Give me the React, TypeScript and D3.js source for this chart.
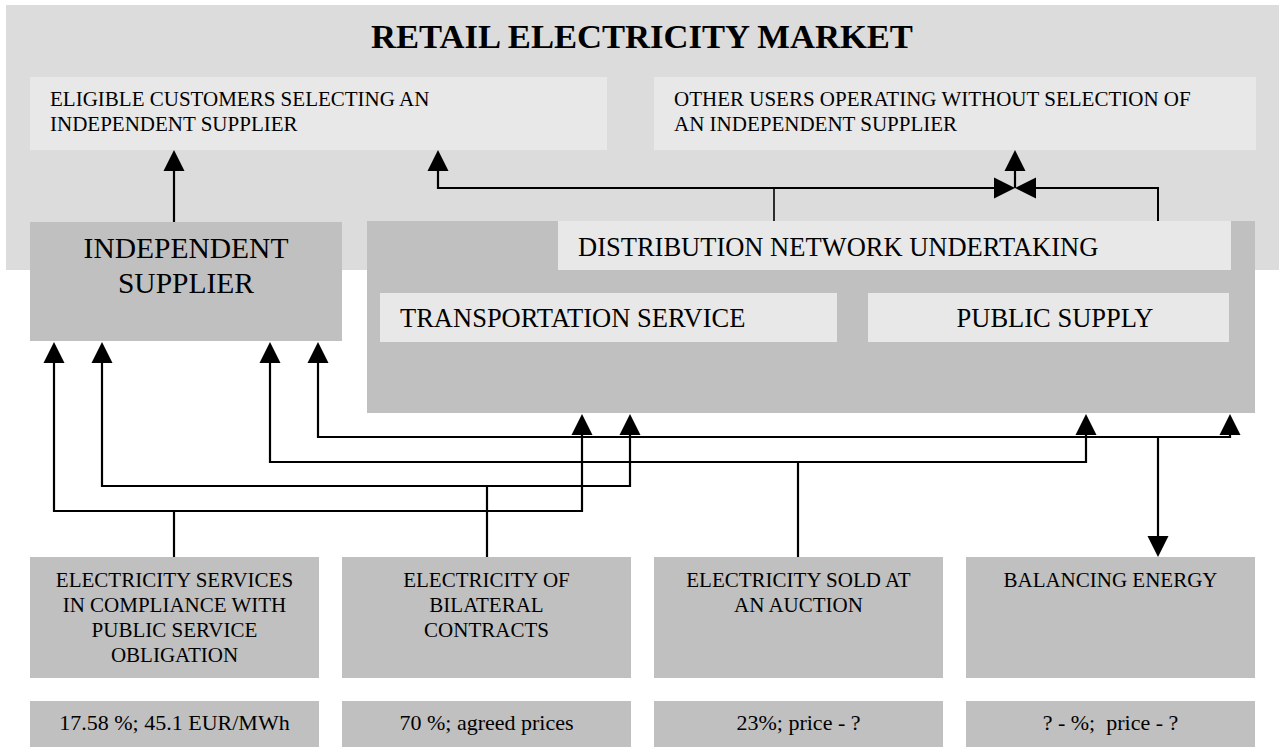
import React, { useEffect, useRef } from "react";
import * as d3 from "d3";

// ---- diagram content ----
const title = "RETAIL ELECTRICITY MARKET";
const customerGroups = [
  ["ELIGIBLE CUSTOMERS SELECTING AN", "INDEPENDENT SUPPLIER"],
  ["OTHER USERS OPERATING WITHOUT SELECTION OF", "AN INDEPENDENT SUPPLIER"],
];
const supplierLabel = ["INDEPENDENT", "SUPPLIER"];
const dnuLabel = "DISTRIBUTION NETWORK UNDERTAKING";
const dnuServices = ["TRANSPORTATION SERVICE", "PUBLIC SUPPLY"];
const sources = ["pso", "bilateral", "auction", "balancing"];
const sourceLabels = [
  ["ELECTRICITY SERVICES", "IN COMPLIANCE WITH", "PUBLIC SERVICE", "OBLIGATION"],
  ["ELECTRICITY OF", "BILATERAL", "CONTRACTS"],
  ["ELECTRICITY SOLD AT", "AN AUCTION"],
  ["BALANCING ENERGY"],
];
const sourceShares = [
  "17.58 %; 45.1 EUR/MWh",
  "70 %; agreed prices",
  "23%; price - ?",
  "? - %;  price - ?",
];

// ---- layout ----
const W = 1284;
const H = 747;
const FONT = "'Liberation Serif', 'Times New Roman', serif";
const C_OUTER = "#dcdcdc";
const C_LIGHT = "#e8e8e8";
const C_DARK = "#c0c0c0";

// wiring: which bus each source uses, where it drops into the source box,
// and where it rises to the supplier / the distribution undertaking
const busY = { balancing: 437, auction: 462, bilateral: 486, pso: 511 };
const dropX = { pso: 174, bilateral: 487, auction: 798, balancing: 1158 };
const toSupplierX = { balancing: 318, auction: 270, bilateral: 102, pso: 54 };
const toDnuX = { balancing: 1230, auction: 1086, bilateral: 630, pso: 582 };

export default function App() {
  const ref = useRef<SVGSVGElement>(null);

  useEffect(() => {
    document.body.style.margin = "0";
    const svg = d3.select(ref.current);
    svg.selectAll("*").remove();

    const rect = (x0, y0, x1, y1, fill) =>
      svg.append("rect").attr("x", x0).attr("y", y0)
        .attr("width", x1 - x0).attr("height", y1 - y0).attr("fill", fill);

    const text = (x, y, s, size, anchor = "start", weight = "normal") =>
      svg.append("text").attr("x", x).attr("y", y)
        .attr("font-family", FONT).attr("font-size", size)
        .attr("font-weight", weight).attr("text-anchor", anchor)
        .attr("fill", "#000").style("white-space", "pre").text(s);

    const line = d3.line<[number, number]>();
    const wire = (pts: [number, number][], w = 2.2) =>
      svg.append("path").attr("d", line(pts)).attr("fill", "none")
        .attr("stroke", "#000").attr("stroke-width", w)
        .attr("stroke-linejoin", "miter");

    // arrow head with its tip at (x, y)
    const head = (x, y, dir) => {
      const L = 21, hw = 10.5;
      let pts: [number, number][];
      if (dir === "up") pts = [[x, y], [x - hw, y + L], [x + hw, y + L]];
      else if (dir === "down") pts = [[x, y], [x - hw, y - L], [x + hw, y - L]];
      else if (dir === "right") pts = [[x, y], [x - L, y - hw], [x - L, y + hw]];
      else pts = [[x, y], [x + L, y - hw], [x + L, y + hw]];
      svg.append("path").attr("d", line(pts) + "Z").attr("fill", "#000");
    };

    // retail market panel
    rect(6, 5, 1279, 270, C_OUTER);
    text(642, 48, title, 34.6, "middle", "bold");
    const custX = [[30, 607], [654, 1256]];
    customerGroups.forEach((lines, i) => {
      rect(custX[i][0], 77, custX[i][1], 150, C_LIGHT);
      lines.forEach((l, j) => text(custX[i][0] + 20, 106 + j * 25, l, 21));
    });

    // independent supplier
    rect(30, 222, 342, 341, C_DARK);
    supplierLabel.forEach((l, j) => text(186, 258 + j * 35, l, 29.5, "middle"));

    // distribution network undertaking
    rect(367, 221, 1255, 413, C_DARK);
    rect(558, 221, 1231, 270, C_LIGHT);
    text(578, 256, dnuLabel, 26.5);
    rect(380, 293, 837, 342, C_LIGHT);
    text(400, 327, dnuServices[0], 26.5);
    rect(868, 293, 1229, 342, C_LIGHT);
    text(1055, 327, dnuServices[1], 26.5, "middle");

    // wiring in the market panel
    wire([[174, 222], [174, 168]]);
    head(174, 150, "up");
    wire([[438, 168], [438, 188], [995, 188]]);
    head(438, 150, "up");
    wire([[774, 188], [774, 221]], 1.6);
    head(1015, 188, "right");
    wire([[1035, 188], [1158, 188], [1158, 221]], 2);
    head(1015, 188, "left");
    wire([[1015, 188], [1015, 168]]);
    head(1015, 150, "up");

    // source boxes on a band scale
    const xCol = d3.scaleBand<string>().domain(sources).range([30, 1255]).paddingInner(0.0737);
    sources.forEach((s, i) => {
      const x0 = xCol(s)!;
      const x1 = x0 + xCol.bandwidth();
      const cx = (x0 + x1) / 2;
      rect(x0, 557, x1, 678, C_DARK);
      sourceLabels[i].forEach((l, j) => text(cx, 587 + j * 25, l, 21, "middle"));
      rect(x0, 701, x1, 760, C_DARK);
      text(cx, 730, sourceShares[i], 22, "middle");
    });

    // buses between sources and the supplier / undertaking
    sources.forEach((s) => {
      const y = busY[s];
      wire([[toSupplierX[s], 360], [toSupplierX[s], y], [toDnuX[s], y], [toDnuX[s], 432]]);
      head(toSupplierX[s], 342, "up");
      head(toDnuX[s], 414, "up");
      if (s === "balancing") {
        wire([[dropX[s], y], [dropX[s], 540]]);
        head(dropX[s], 557, "down");
      } else {
        wire([[dropX[s], y], [dropX[s], 557]]);
      }
    });
  }, []);

  return (
    <svg ref={ref} width={W} height={H}
      style={{ position: "absolute", left: 0, top: 0, background: "#fff" }} />
  );
}
